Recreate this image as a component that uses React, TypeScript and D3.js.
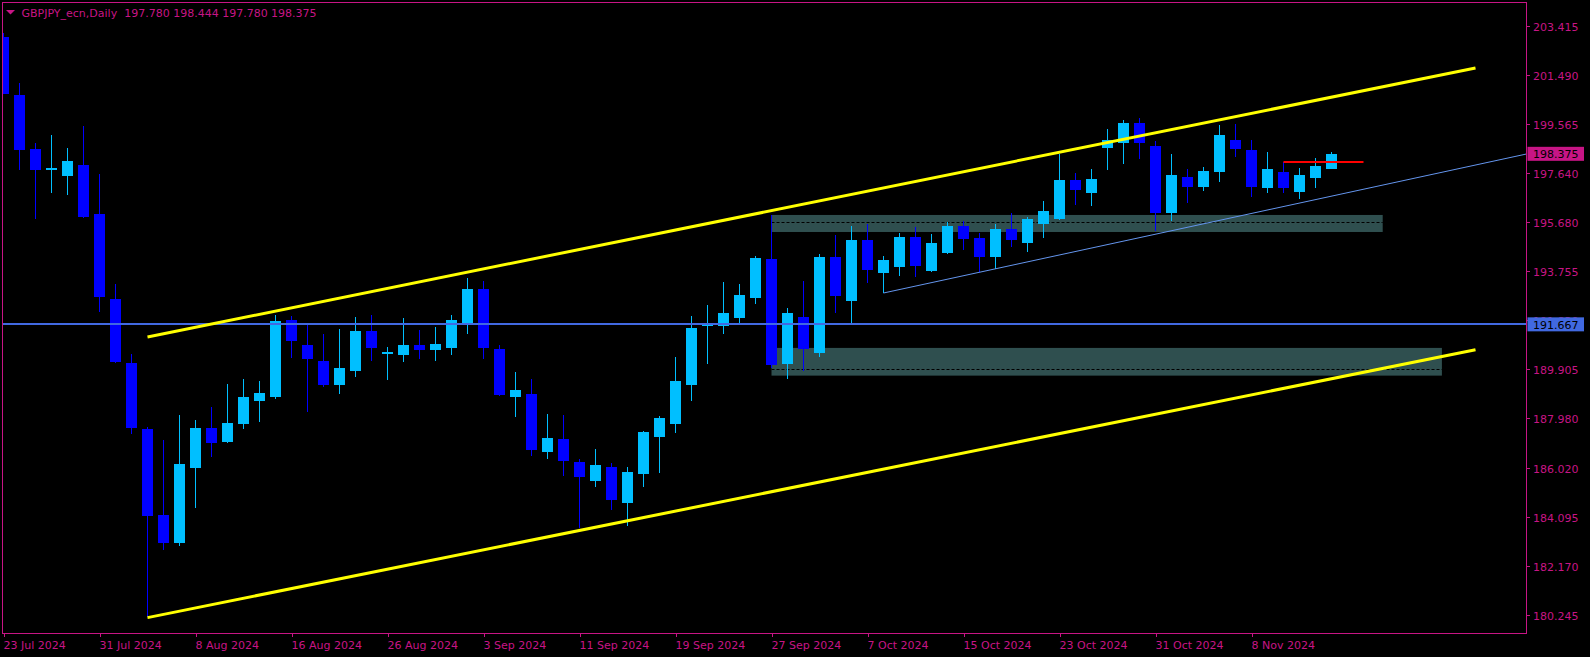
import React from "react";
import * as d3 from "d3";

// ---------- data ----------
const dates = [
  "2024-07-23","2024-07-24","2024-07-25","2024-07-26","2024-07-29","2024-07-30","2024-07-31",
  "2024-08-01","2024-08-02","2024-08-05","2024-08-06","2024-08-07","2024-08-08","2024-08-09","2024-08-12","2024-08-13","2024-08-14","2024-08-15","2024-08-16","2024-08-19","2024-08-20","2024-08-21","2024-08-22","2024-08-23","2024-08-26","2024-08-27","2024-08-28","2024-08-29","2024-08-30",
  "2024-09-02","2024-09-03","2024-09-04","2024-09-05","2024-09-06","2024-09-09","2024-09-10","2024-09-11","2024-09-12","2024-09-13","2024-09-16","2024-09-17","2024-09-18","2024-09-19","2024-09-20","2024-09-23","2024-09-24","2024-09-25","2024-09-26","2024-09-27","2024-09-30",
  "2024-10-01","2024-10-02","2024-10-03","2024-10-04","2024-10-07","2024-10-08","2024-10-09","2024-10-10","2024-10-11","2024-10-14","2024-10-15","2024-10-16","2024-10-17","2024-10-18","2024-10-21","2024-10-22","2024-10-23","2024-10-24","2024-10-25","2024-10-28","2024-10-29","2024-10-30","2024-10-31",
  "2024-11-01","2024-11-04","2024-11-05","2024-11-06","2024-11-07","2024-11-08","2024-11-11","2024-11-12","2024-11-13","2024-11-14","2024-11-15"
];

const opens = [
  202.97, 200.69, 198.56, 197.75, 197.51, 197.94, 196.01, 192.66, 190.15, 187.55,
  184.17, 183.07, 186.02, 187.59, 187.04, 187.75, 188.65, 188.81, 191.84, 190.85,
  190.23, 189.28, 189.83, 191.41, 190.50, 190.46, 190.85, 190.66, 190.74, 191.72,
  193.06, 190.70, 188.81, 188.93, 186.65, 187.16, 186.25, 185.50, 186.06, 184.64,
  185.78, 187.24, 187.75, 189.28, 191.61, 191.60, 191.92, 192.70, 194.24, 190.11,
  191.96, 190.54, 194.32, 192.59, 194.99, 193.69, 193.92, 195.10, 193.77, 194.47,
  195.54, 195.06, 194.32, 195.42, 194.87, 195.61, 195.81, 197.35, 196.83, 198.60,
  198.80, 199.59, 198.68, 196.05, 197.46, 197.07, 197.66, 198.92, 198.52, 197.03,
  197.66, 196.87, 197.42, 197.78
];
const highs = [
  203.12, 201.16, 198.80, 199.12, 198.60, 199.47, 197.58, 193.25, 190.50, 187.63,
  187.12, 188.10, 187.90, 188.42, 189.32, 189.52, 189.44, 192.03, 191.99, 191.72,
  191.29, 191.48, 191.96, 192.03, 190.78, 191.92, 191.44, 191.56, 192.03, 193.49,
  193.37, 190.85, 189.79, 189.52, 188.14, 188.10, 186.37, 186.76, 186.21, 186.06,
  187.47, 188.06, 190.38, 191.99, 192.43, 193.33, 193.25, 194.36, 195.97, 192.31,
  193.37, 194.43, 195.18, 195.54, 195.61, 194.36, 195.26, 195.50, 195.22, 195.69,
  195.73, 195.26, 195.61, 196.05, 195.89, 196.52, 198.37, 197.62, 197.78, 199.35,
  199.70, 199.78, 198.88, 198.37, 197.78, 197.86, 199.51, 199.55, 198.92, 198.45,
  198.05, 197.82, 198.21, 198.444
];
const lows = [
  200.72, 197.75, 195.81, 196.83, 196.76, 195.86, 192.15, 190.16, 187.35, 180.17,
  182.79, 182.95, 184.44, 186.45, 187.00, 187.55, 187.83, 188.73, 190.34, 188.22,
  189.20, 188.93, 189.59, 190.23, 189.48, 190.19, 190.30, 190.23, 190.46, 191.29,
  190.30, 188.85, 188.02, 186.49, 186.37, 185.70, 183.66, 185.27, 184.36, 183.73,
  185.27, 185.82, 187.39, 188.65, 190.11, 191.29, 191.72, 192.47, 189.95, 189.52,
  189.83, 190.38, 192.11, 191.72, 193.29, 192.90, 193.57, 193.53, 193.73, 194.45,
  194.59, 193.73, 193.84, 194.71, 194.51, 195.06, 195.79, 196.36, 196.32, 197.74,
  197.97, 198.17, 195.34, 195.73, 196.44, 196.91, 197.27, 198.25, 196.68, 196.83,
  196.83, 196.60, 197.03, 197.78
];
const closes = [
  200.74, 198.54, 197.75, 197.82, 198.09, 195.89, 192.74, 190.20, 187.60, 184.14,
  183.07, 186.17, 187.59, 187.00, 187.79, 188.81, 188.97, 191.80, 191.01, 190.30,
  189.28, 189.95, 191.41, 190.74, 190.58, 190.85, 190.66, 190.89, 191.84, 193.06,
  190.74, 188.89, 189.08, 186.72, 187.20, 186.29, 185.66, 186.13, 184.76, 185.86,
  187.43, 187.98, 189.44, 191.52, 191.67, 192.11, 192.82, 194.28, 190.07, 192.11,
  190.70, 194.32, 192.78, 194.99, 193.81, 194.20, 195.10, 193.96, 194.87, 195.54,
  195.02, 194.32, 195.42, 194.99, 195.81, 196.13, 197.35, 196.95, 197.39, 198.92,
  199.59, 198.80, 196.05, 197.54, 197.07, 197.70, 199.12, 198.56, 197.07, 197.78,
  197.03, 197.54, 197.90, 198.375
];

const priceTicks = [203.415, 201.49, 199.565, 197.64, 195.68, 193.755, 191.83, 189.905, 187.98, 186.02, 184.095, 182.17, 180.245];
const dateTickIdx = [0, 6, 12, 18, 24, 30, 36, 42, 48, 54, 60, 66, 72, 78];

const titleSymbol = "GBPJPY_ecn,Daily";
const lastOHLC = [197.78, 198.444, 197.78, 198.375];

// support / resistance zones (bar index range, price band, dashed middle)
const zoneFrom = [48, 48];
const zoneTo = [86.2, 89.9];
const zoneTop = [195.97, 190.74];
const zoneBottom = [195.3, 189.65];
const zoneMid = [195.68, 189.9];

// channel and trend lines (bar index, price)
const channelUpper = [{ idx: 9, price: 191.17 }, { idx: 92, price: 201.75 }];
const channelLower = [{ idx: 9, price: 180.13 }, { idx: 92, price: 190.67 }];
const supportRay = [{ idx: 55, price: 192.9 }, { idx: 83, price: 196.71 }];
const hLinePrice = 191.667;
const redLine = { from: 80, to: 85, price: 198.05 };

// ---------- styling ----------
const W = 1590, H = 657;
const PL = 2.5, PT = 2.5, PR = 1526.5, PB = 633.5;
const PINK = "#C71585";
const BULL = "#00BFFF";
const BEAR = "#0000FF";
const ROYAL = "#4169E1";
const ZONE = "#2F4F4F";
const FONT = "DejaVu Sans, Verdana, sans-serif";

type Pt = { idx: number; price: number };

export default function App() {
  const x = d3.scaleLinear().domain([0, 1]).range([3.5, 19.5]);
  const y = d3.scaleLinear().domain([180.245, 203.415]).range([614.7, 25.7]);
  const fmtDate = d3.timeFormat("%-d %b %Y");
  const parse = d3.timeParse("%Y-%m-%d");
  const line = d3.line<Pt>().x((d) => x(d.idx)).y((d) => y(d.price));

  const rightIdx = x.invert(PR);
  const r0 = supportRay[0], r1 = supportRay[1];
  const rayEnd: Pt = {
    idx: rightIdx,
    price: r0.price + ((r1.price - r0.price) * (rightIdx - r0.idx)) / (r1.idx - r0.idx),
  };

  const lastClose = closes[closes.length - 1];

  return (
    <svg
      width={W}
      height={H}
      style={{ position: "fixed", left: 0, top: 0, display: "block", background: "#000" }}
    >
      <defs>
        <clipPath id="plotClip">
          <rect x={PL + 0.5} y={PT + 0.5} width={PR - PL - 1} height={PB - PT - 1} />
        </clipPath>
      </defs>
      <rect x={0} y={0} width={W} height={H} fill="#000" />

      <g clipPath="url(#plotClip)">
        {/* zones */}
        {zoneFrom.map((f, k) => (
          <g key={"z" + k}>
            <rect
              x={x(f)}
              y={y(zoneTop[k])}
              width={x(zoneTo[k]) - x(f)}
              height={y(zoneBottom[k]) - y(zoneTop[k])}
              fill={ZONE}
            />
            <line
              x1={x(f)}
              x2={x(zoneTo[k])}
              y1={Math.round(y(zoneMid[k])) + 0.5}
              y2={Math.round(y(zoneMid[k])) + 0.5}
              stroke="#000"
              strokeWidth={1}
              strokeDasharray="3 2"
            />
          </g>
        ))}

        {/* candles */}
        {dates.map((d, i) => {
          const o = opens[i], c = closes[i], h = highs[i], l = lows[i];
          const up = c >= o;
          const col = up ? BULL : BEAR;
          const cx = x(i);
          const top = Math.round(y(Math.max(o, c)));
          const bot = Math.round(y(Math.min(o, c)));
          const bh = Math.max(bot - top, 2);
          return (
            <g key={d} shapeRendering="crispEdges">
              <line x1={cx} x2={cx} y1={Math.round(y(h))} y2={Math.round(y(l))} stroke={col} strokeWidth={1} />
              <rect x={cx - 5.5} y={top} width={11} height={bh} fill={col} />
            </g>
          );
        })}

        {/* horizontal line */}
        <line
          x1={PL}
          x2={PR}
          y1={y(hLinePrice)}
          y2={y(hLinePrice)}
          stroke={ROYAL}
          strokeWidth={2}
          shapeRendering="crispEdges"
        />

        {/* channel */}
        <path d={line(channelUpper) || ""} stroke="#FFFF00" strokeWidth={3} fill="none" />
        <path d={line(channelLower) || ""} stroke="#FFFF00" strokeWidth={3} fill="none" />

        {/* support ray */}
        <path d={line([r0, rayEnd]) || ""} stroke="#6495ED" strokeWidth={1} fill="none" />

        {/* red level */}
        <line
          x1={x(redLine.from)}
          x2={x(redLine.to)}
          y1={y(redLine.price)}
          y2={y(redLine.price)}
          stroke="#FF0000"
          strokeWidth={2}
        />
      </g>

      {/* frame */}
      <rect x={PL} y={PT} width={PR - PL} height={PB - PT} fill="none" stroke={PINK} strokeWidth={1} shapeRendering="crispEdges" />

      {/* title */}
      <path d="M6,10 L15,10 L10.5,14.5 Z" fill={PINK} />
      <text x={21.5} y={16.5} fill={PINK} fontFamily={FONT} fontSize={11} style={{ whiteSpace: "pre" }}>
        {titleSymbol + "  " + lastOHLC.map((v) => v.toFixed(3)).join(" ")}
      </text>

      {/* price axis */}
      {priceTicks.map((p) => {
        const yy = Math.round(y(p)) + 0.5;
        return (
          <g key={"p" + p}>
            <line x1={PR} x2={PR + 3.5} y1={yy} y2={yy} stroke={PINK} strokeWidth={1} shapeRendering="crispEdges" />
            <text x={1533} y={yy + 4} fill={PINK} fontFamily={FONT} fontSize={11}>
              {p.toFixed(3)}
            </text>
          </g>
        );
      })}

      {/* horizontal line label */}
      <rect x={1527.5} y={y(hLinePrice) - 7} width={56.5} height={14} fill={ROYAL} />
      <text x={1533} y={y(hLinePrice) + 4.5} fill="#000" fontFamily={FONT} fontSize={11}>
        {hLinePrice.toFixed(3)}
      </text>

      {/* last price label */}
      <rect x={1527.5} y={y(lastClose) - 7} width={56.5} height={14} fill={PINK} />
      <text x={1533} y={y(lastClose) + 4.5} fill="#000" fontFamily={FONT} fontSize={11}>
        {lastClose.toFixed(3)}
      </text>

      {/* time axis */}
      {dateTickIdx.map((i) => {
        const xx = Math.round(x(i)) + 0.5;
        return (
          <g key={"d" + i}>
            <line x1={xx} x2={xx} y1={PB} y2={PB + 3.5} stroke={PINK} strokeWidth={1} shapeRendering="crispEdges" />
            <text x={xx - 1} y={648.5} fill={PINK} fontFamily={FONT} fontSize={11}>
              {fmtDate(parse(dates[i]) as Date)}
            </text>
          </g>
        );
      })}
    </svg>
  );
}
